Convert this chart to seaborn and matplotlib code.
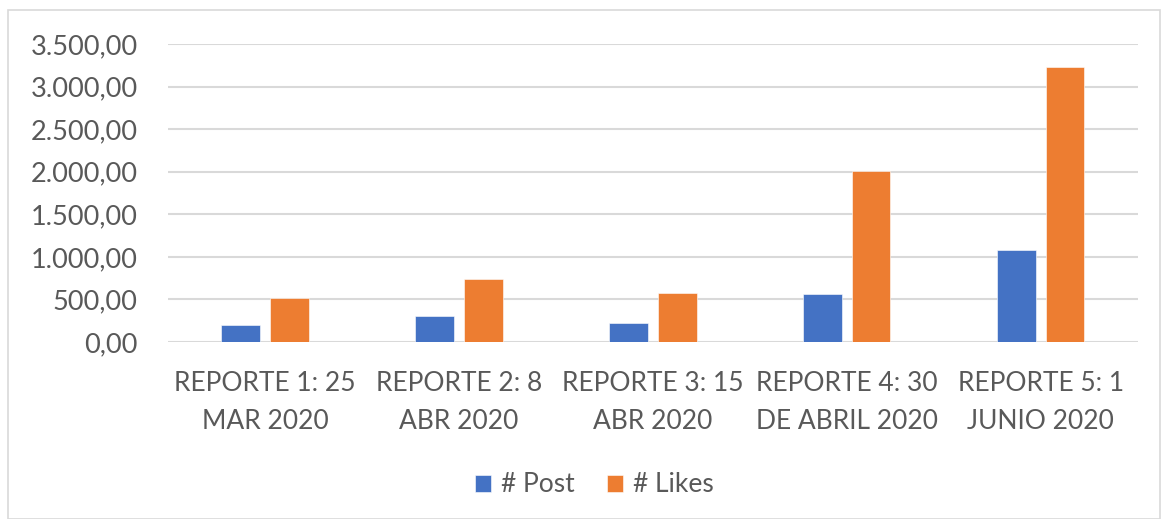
import pandas as pd
import seaborn as sns
import matplotlib.pyplot as plt
from matplotlib.ticker import FuncFormatter
from matplotlib.patches import Rectangle

# data
reportes = ['REPORTE 1: 25\nMAR 2020', 'REPORTE 2: 8\nABR 2020', 'REPORTE 3: 15\nABR 2020',
            'REPORTE 4: 30\nDE ABRIL 2020', 'REPORTE 5: 1\nJUNIO 2020']
posts = [200, 305, 225, 570, 1080]
likes = [515, 745, 577, 2005, 3232]

df = pd.DataFrame({'reporte': reportes * 2,
                   'valor': posts + likes,
                   'serie': ['# Post'] * 5 + ['# Likes'] * 5})

sns.set_style('white')
plt.rcParams['font.family'] = ['Lato', 'DejaVu Sans']

fig = plt.figure(figsize=(11.61, 5.19), dpi=100)
ax = fig.add_axes([0.1447, 0.341, 0.8353, 0.574])

sns.barplot(data=df, x='reporte', y='valor', hue='serie',
            palette=['#4472C4', '#ED7D31'], saturation=1, width=0.5, gap=0.2,
            edgecolor='white', linewidth=0.4, ax=ax, zorder=3)

ax.set_ylim(0, 3500)
ax.set_yticks(range(0, 3501, 500))
fmt = lambda v, p: f'{v:,.2f}'.replace(',', 'X').replace('.', ',').replace('X', '.')
ax.yaxis.set_major_formatter(FuncFormatter(fmt))
ax.grid(axis='y', color='#D9D9D9', linewidth=1.5, zorder=0)
for s in ax.spines.values():
    s.set_visible(False)
ax.tick_params(axis='y', length=0, pad=22, labelsize=19.5, labelcolor='#595959')
ax.tick_params(axis='x', length=0, pad=21, labelsize=19, labelcolor='#595959')
for t in ax.get_xticklabels():
    t.set_linespacing(1.62)
ax.set_xlabel('')
ax.set_ylabel('')

ax.get_legend().remove()
handles, labels = ax.get_legend_handles_labels()
leg = fig.legend(handles, labels, loc='center', bbox_to_anchor=(0.512, 1 - 485 / 519), ncol=2,
                 frameon=False, fontsize=19, handlelength=0.6, handleheight=0.6,
                 columnspacing=1.2, handletextpad=0.4)
for t in leg.get_texts():
    t.set_color('#595959')

fig.add_artist(Rectangle((8 / 1161, 0), 1 - 9 / 1161, 1 - 10 / 519, transform=fig.transFigure,
                         fill=False, edgecolor='#D9D9D9', linewidth=1.2))

fig.savefig('out.png', dpi=100)
